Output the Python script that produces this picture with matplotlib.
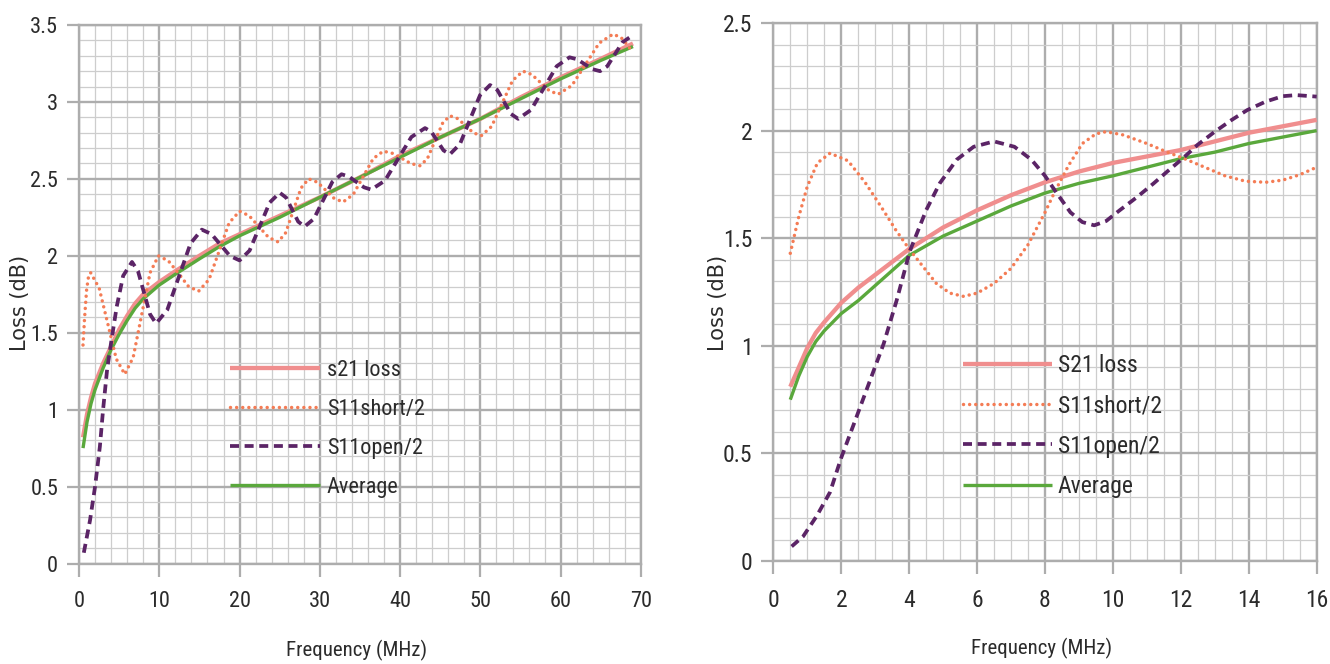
import matplotlib
matplotlib.use("Agg")
import matplotlib.pyplot as plt
from matplotlib.ticker import MultipleLocator, FixedLocator, FixedFormatter
from matplotlib import font_manager as fm

# ---------------- data ----------------
series_labels_left = ["s21 loss", "S11short/2", "S11open/2", "Average"]
series_labels_right = ["S21 loss", "S11short/2", "S11open/2", "Average"]

# Left panel (0-70 MHz)
left_s21_f = [0.5, 1, 1.5, 2, 3, 4, 5, 6, 7, 8, 10, 12, 15, 17.5, 20, 22.5, 25, 30, 35, 40, 45, 50, 55, 60, 65, 69]
left_s21_v = [0.82, 0.97, 1.08, 1.17, 1.30, 1.41, 1.52, 1.61, 1.69, 1.75, 1.83, 1.90, 2.00, 2.08, 2.14, 2.20, 2.26,
              2.38, 2.51, 2.65, 2.77, 2.89, 3.03, 3.16, 3.28, 3.38]
left_avg_f = [0.5, 1, 1.5, 2, 3, 4, 5, 6, 7, 8, 10, 12, 15, 17.5, 20, 22.5, 25, 30, 35, 40, 45, 50, 55, 60, 65, 69]
left_avg_v = [0.75, 0.92, 1.04, 1.13, 1.27, 1.39, 1.49, 1.58, 1.66, 1.72, 1.81, 1.88, 1.98, 2.06, 2.13, 2.19, 2.25,
              2.38, 2.51, 2.64, 2.77, 2.89, 3.02, 3.15, 3.27, 3.36]
left_short_f = [0.5, 0.7, 0.95, 1.2, 1.45, 2.51, 3.58, 4.64, 5.7, 6.75, 7.8, 8.85, 9.9, 11.15, 12.4, 13.65, 14.9,
                16.2, 17.45, 18.7, 20.0, 21.2, 22.4, 23.6, 24.8, 25.75, 26.7, 27.65, 28.6, 29.7, 30.75, 31.8, 32.9,
                34.15, 35.4, 36.65, 37.9, 39.05, 40.2, 41.35, 42.5, 43.4, 44.35, 45.3, 46.2, 47.2, 48.15, 49.1, 50.1,
                51.4, 52.7, 54.0, 55.3, 56.4, 57.5, 58.6, 59.7, 61.4, 63.1, 64.8, 66.5, 67.5, 68.3, 69.0]
left_short_v = [1.42, 1.60, 1.78, 1.87, 1.89, 1.79, 1.56, 1.33, 1.23, 1.34, 1.615, 1.89, 2.00, 1.966, 1.885, 1.80, 1.77,
                1.846, 2.03, 2.214, 2.29, 2.26, 2.19, 2.12, 2.09, 2.15, 2.295, 2.44, 2.50, 2.478, 2.425, 2.372, 2.35,
                2.398, 2.515, 2.632, 2.68, 2.666, 2.633, 2.599, 2.585, 2.632, 2.748, 2.863, 2.91, 2.891, 2.845, 2.80, 2.78,
                2.841, 2.99, 3.139, 3.20, 3.178, 3.125, 3.072, 3.05, 3.107, 3.245, 3.383, 3.44, 3.42, 3.37, 3.32]
left_open_f = [0.6, 1.37, 2.0, 2.6, 3.0, 3.5, 4.07, 4.7, 5.5, 6.6, 7.35, 8.1, 8.85, 9.6, 11.0, 12.45, 13.9, 15.3,
               16.5, 17.65, 18.8, 20.0, 21.25, 22.5, 23.75, 25.0, 25.8, 26.55, 27.3, 28.1, 29.25, 30.4, 31.55, 32.7,
               33.6, 34.55, 35.5, 36.4, 38.1, 39.75, 41.4, 43.1, 43.9, 44.65, 45.4, 46.2, 47.45, 48.7, 49.95, 51.2,
               52.1, 52.95, 53.8, 54.7, 56.3, 57.9, 59.5, 61.1, 62.05, 63.0, 63.95, 64.9, 65.8, 66.75, 67.7, 68.6]
left_open_v = [0.07, 0.28, 0.50, 0.76, 1.00, 1.26, 1.46, 1.67, 1.87, 1.96, 1.90, 1.76, 1.62, 1.56, 1.649, 1.865, 2.081, 2.17,
               2.141, 2.07, 1.999, 1.97, 2.034, 2.19, 2.346, 2.41, 2.378, 2.30, 2.222, 2.19, 2.24, 2.36, 2.48, 2.53,
               2.515, 2.48, 2.445, 2.43, 2.488, 2.63, 2.772, 2.83, 2.805, 2.745, 2.685, 2.66, 2.726, 2.885, 3.044, 3.11,
               3.078, 3.0, 2.922, 2.89, 2.948, 3.09, 3.232, 3.29, 3.277, 3.245, 3.213, 3.20, 3.232, 3.31, 3.388, 3.42]

# Right panel (0-16 MHz)
right_s21_f = [0.5, 0.75, 1.0, 1.25, 1.5, 2, 2.5, 3, 4, 5, 6, 7, 8, 9, 10, 11, 12, 13, 14, 15, 16]
right_s21_v = [0.81, 0.90, 0.99, 1.06, 1.11, 1.20, 1.27, 1.33, 1.45, 1.55, 1.63, 1.70, 1.76, 1.81, 1.85, 1.88, 1.91,
               1.95, 1.99, 2.02, 2.05]
right_avg_f = [0.5, 0.75, 1.0, 1.25, 1.5, 2, 2.5, 3, 4, 5, 6, 7, 8, 9, 10, 11, 12, 13, 14, 15, 16]
right_avg_v = [0.75, 0.86, 0.95, 1.02, 1.07, 1.15, 1.21, 1.28, 1.42, 1.51, 1.58, 1.65, 1.71, 1.755, 1.79, 1.83, 1.87,
               1.90, 1.94, 1.97, 2.00]
right_short_f = [0.5, 0.75, 1.0, 1.3, 1.67, 2.2, 2.7, 3.2, 3.6, 4.0, 4.4, 4.8, 5.2, 5.6, 6.0, 6.5, 7.0, 7.5, 8.0,
                 8.3, 8.7, 9.1, 9.5, 9.8, 10.3, 11.0, 11.6, 12.1, 12.7, 13.3, 13.9, 14.5, 15.0, 15.5, 16.0]
right_short_v = [1.43, 1.60, 1.74, 1.85, 1.895, 1.86, 1.76, 1.64, 1.54, 1.45, 1.37, 1.29, 1.245, 1.23, 1.245, 1.29,
                 1.36, 1.47, 1.62, 1.72, 1.84, 1.94, 1.985, 1.995, 1.98, 1.94, 1.90, 1.87, 1.83, 1.79, 1.765, 1.76,
                 1.77, 1.795, 1.83]
right_open_f = [0.54, 0.88, 1.28, 1.67, 2.0, 2.45, 2.85, 3.25, 3.63, 4.02, 4.5, 4.9, 5.4, 5.9, 6.5, 7.1, 7.6, 8.0,
                8.3, 8.75, 9.1, 9.45, 9.8, 10.2, 10.7, 11.2, 11.6, 12.05, 12.5, 13.0, 13.5, 13.95, 14.5, 15.0, 15.4, 16.0]
right_open_v = [0.068, 0.115, 0.21, 0.32, 0.48, 0.67, 0.84, 1.01, 1.21, 1.44, 1.63, 1.755, 1.865, 1.925, 1.95, 1.925,
                1.865, 1.79, 1.72, 1.62, 1.575, 1.56, 1.58, 1.63, 1.69, 1.755, 1.81, 1.87, 1.935, 1.995, 2.05, 2.095,
                2.135, 2.16, 2.165, 2.158]

# Axis ticks / labels
left_xticks = [0, 10, 20, 30, 40, 50, 60, 70]
left_xticklabels = ["0", "10", "20", "30", "40", "50", "60", "70"]
left_yticks = [0, 0.5, 1, 1.5, 2, 2.5, 3, 3.5]
left_yticklabels = ["0", "0.5", "1", "1.5", "2", "2.5", "3", "3.5"]
right_xticks = [0, 2, 4, 6, 8, 10, 12, 14, 16]
right_xticklabels = ["0", "2", "4", "6", "8", "10", "12", "14", "16"]
right_yticks = [0, 0.5, 1, 1.5, 2, 2.5]
right_yticklabels = ["0", "0.5", "1", "1.5", "2", "2.5"]
x_label = "Frequency (MHz)"
y_label = "Loss (dB)"

# ---------------- styling ----------------
names = {f.name for f in fm.fontManager.ttflist}
NARROW = "Liberation Sans"
for cand in ["Liberation Sans Narrow", "Roboto Condensed", "Open Sans Condensed", "Liberation Sans"]:
    if cand in names:
        NARROW = cand
        break
plt.rcParams["font.family"] = [NARROW, "DejaVu Sans"]

TEXT = "#2b2b2b"
MAJOR = "#adadad"
MINOR = "#cdcdcd"
C_S21 = "#f08e8e"
C_SHORT = "#f47c55"
C_OPEN = "#5b2466"
C_AVG = "#5aa83c"

fig = plt.figure(figsize=(13.3, 6.64), dpi=100)
fig.patch.set_facecolor("white")

W, H = 1330.0, 664.0


def make_axes(x0, x1, ytop, ybot):
    return fig.add_axes([x0 / W, 1 - ybot / H, (x1 - x0) / W, (ybot - ytop) / H])


axL = make_axes(79, 641, 25, 563.5)
axR = make_axes(773.3, 1316.7, 23, 561.1)


def style(ax, xmin_step, ymin_step, xlim, ylim, xt, xtl, yt, ytl, fs):
    ax.set_xlim(*xlim)
    ax.set_ylim(*ylim)
    ax.xaxis.set_major_locator(FixedLocator(xt))
    ax.xaxis.set_major_formatter(FixedFormatter(xtl))
    ax.yaxis.set_major_locator(FixedLocator(yt))
    ax.yaxis.set_major_formatter(FixedFormatter(ytl))
    ax.xaxis.set_minor_locator(MultipleLocator(xmin_step))
    ax.yaxis.set_minor_locator(MultipleLocator(ymin_step))
    ax.grid(which="minor", color=MINOR, linewidth=0.9, zorder=0)
    ax.grid(which="major", color=MAJOR, linewidth=1.7, zorder=0.5)
    ax.set_axisbelow(True)
    for s in ax.spines.values():
        s.set_color(MAJOR)
        s.set_linewidth(1.7)
    ax.tick_params(which="major", axis="x", length=9, width=1.6, color=MAJOR, labelsize=fs,
                   labelcolor=TEXT, pad=11)
    ax.tick_params(which="major", axis="y", length=9, width=1.6, color=MAJOR, labelsize=fs,
                   labelcolor=TEXT, pad=6)
    ax.tick_params(which="minor", length=0)


style(axL, 2, 0.1, (0, 70), (0, 3.5), left_xticks, left_xticklabels, left_yticks, left_yticklabels, 16)
style(axR, 0.5, 0.1, (0, 16), (0, 2.5), right_xticks, right_xticklabels, right_yticks, right_yticklabels, 17)


def draw(ax, data, labels, legend_anchor, legend_fs, hlen, hpad, lspace):
    (s21f, s21v), (shf, shv), (opf, opv), (avf, avv) = data
    ax.plot(s21f, s21v, color=C_S21, lw=3.1, label=labels[0], zorder=3, solid_capstyle="butt")
    ax.plot(shf, shv, color=C_SHORT, lw=2.5, linestyle=(0, (0.01, 1.75)), dash_capstyle="round",
            label=labels[1], zorder=4)
    ax.plot(opf, opv, color=C_OPEN, lw=2.7, linestyle=(0, (2.4, 1.5)), label=labels[2], zorder=5)
    ax.plot(avf, avv, color=C_AVG, lw=2.4, label=labels[3], zorder=3.5, solid_capstyle="butt")
    leg = ax.legend(loc="upper left", bbox_to_anchor=legend_anchor, bbox_transform=fig.transFigure,
                    frameon=False, fontsize=legend_fs, handlelength=hlen, handletextpad=hpad,
                    labelspacing=lspace, borderpad=0, borderaxespad=0)
    for t in leg.get_texts():
        t.set_color(TEXT)
    return leg


draw(axL, [(left_s21_f, left_s21_v), (left_short_f, left_short_v), (left_open_f, left_open_v),
           (left_avg_f, left_avg_v)], series_labels_left, (230 / W, 1 - 360 / H), 16, 4.05, 0.3, 0.81)
draw(axR, [(right_s21_f, right_s21_v), (right_short_f, right_short_v), (right_open_f, right_open_v),
           (right_avg_f, right_avg_v)], series_labels_right, (963 / W, 1 - 354 / H), 17, 3.77, 0.25, 0.735)

# axis titles
fig.text(357 / W, 1 - 650 / H, x_label, ha="center", va="center", fontsize=15, color=TEXT)
fig.text(1042 / W, 1 - 648 / H, x_label, ha="center", va="center", fontsize=15, color=TEXT)
fig.text(20 / W, 1 - 303 / H, y_label, ha="center", va="center", rotation=90, fontsize=15,
         color=TEXT, family=["DejaVu Sans"])
fig.text(718 / W, 1 - 303 / H, y_label, ha="center", va="center", rotation=90, fontsize=15,
         color=TEXT, family=["DejaVu Sans"])

fig.savefig("out.png", dpi=100, facecolor="white")
